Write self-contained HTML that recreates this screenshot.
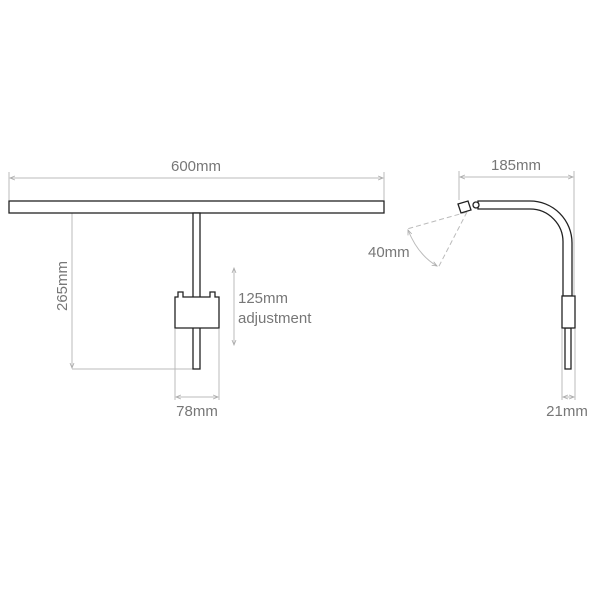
<!DOCTYPE html>
<html><head><style>body{margin:0;background:#fff}svg{display:block}</style></head><body>
<svg width="600" height="600" viewBox="0 0 600 600" xmlns="http://www.w3.org/2000/svg" font-family="Liberation Sans, sans-serif">
<defs><marker id="a" markerWidth="6" markerHeight="6" refX="5" refY="3" orient="auto-start-reverse"><path d="M0,1 L5,3 L0,5" fill="none" stroke="#aaa" stroke-width="0.8"/></marker></defs>
<g stroke="#bbb" stroke-width="1" fill="none">
<line x1="9" y1="172" x2="9" y2="200"/><line x1="384" y1="172" x2="384" y2="200"/>
<line x1="10" y1="178" x2="383" y2="178" marker-start="url(#a)" marker-end="url(#a)"/>
<line x1="72" y1="202" x2="72" y2="368" marker-start="url(#a)" marker-end="url(#a)"/>
<line x1="72" y1="369" x2="193" y2="369"/>
<line x1="234" y1="268" x2="234" y2="345" marker-start="url(#a)" marker-end="url(#a)"/>
<line x1="175" y1="329" x2="175" y2="400"/><line x1="219" y1="329" x2="219" y2="400"/>
<line x1="176" y1="397" x2="218" y2="397" marker-start="url(#a)" marker-end="url(#a)"/>
<line x1="459" y1="171" x2="459" y2="200"/><line x1="574" y1="171" x2="574" y2="295"/>
<line x1="460" y1="177" x2="573" y2="177" marker-start="url(#a)" marker-end="url(#a)"/>
<line x1="562" y1="329" x2="562" y2="400"/><line x1="575" y1="329" x2="575" y2="400"/>
<line x1="563" y1="397" x2="574" y2="397" marker-start="url(#a)" marker-end="url(#a)"/>
<line x1="467" y1="212" x2="407" y2="229" stroke-dasharray="5,3"/>
<line x1="467" y1="212" x2="438" y2="268" stroke-dasharray="5,3"/>
<path d="M408,230 Q418,255 437,266" marker-start="url(#a)" marker-end="url(#a)"/>
</g>
<g stroke="#222" stroke-width="1.3" fill="#fff">
<rect x="9" y="201" width="375" height="12"/>
<rect x="193" y="213" width="7" height="156"/>
<path d="M175,297 H178 V292 H183 V297 H210 V292 H215 V297 H219 V328 H175 Z"/>
<path d="M478,201 H530 A42,42 0 0 1 572,243 V296 H563 V243 A33,33 0 0 0 530,209 H478 Z"/>
<rect x="565" y="328" width="6" height="41"/>
<rect x="562" y="296" width="13" height="32"/>
<polygon points="458,204 468,201 471,210 461,213"/>
<circle cx="476" cy="205" r="3"/>
</g>
<g fill="#777" font-size="15">
<text x="196" y="171" text-anchor="middle">600mm</text>
<text x="516" y="170" text-anchor="middle">185mm</text>
<text transform="translate(67,286) rotate(-90)" text-anchor="middle">265mm</text>
<text x="238" y="303">125mm</text>
<text x="238" y="323">adjustment</text>
<text x="197" y="416" text-anchor="middle">78mm</text>
<text x="567" y="416" text-anchor="middle">21mm</text>
<text x="368" y="257">40mm</text>
</g>
</svg>
</body></html>
